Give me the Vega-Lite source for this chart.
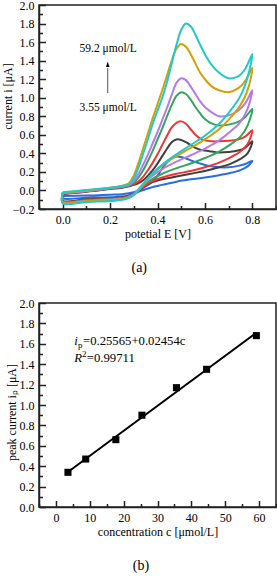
{
  "$schema": "https://vega.github.io/schema/vega-lite/v6.json",
  "padding": {"left": 0, "top": -2, "right": 0, "bottom": 0},
  "spacing": 20,
  "config": {
    "font": "Liberation Serif",
    "view": {"stroke": "#222", "strokeWidth": 1.5},
    "axis": {"labelFont": "Liberation Serif", "labelFontSize": 12, "labelColor": "#000", "titleFont": "Liberation Serif", "titleFontSize": 12, "titleFontWeight": "normal", "titleColor": "#000", "domainColor": "#222", "domainWidth": 1.5, "tickColor": "#222", "tickWidth": 1.5, "grid": false, "labelFlush": false, "labelOverlap": false, "labelPadding": 11.5, "tickSize": -6.5, "titlePadding": 3},
    "title": {"font": "Liberation Serif", "fontSize": 14, "fontWeight": "normal", "color": "#000", "orient": "bottom", "anchor": "middle", "frame": "bounds"}
  },
  "vconcat": [
    {
      "width": 237,
      "height": 204,
      "title": {"text": "(a)", "orient": "bottom", "offset": 22},
      "resolve": {"axis": {"x": "independent", "y": "independent"}},
      "layer": [
        {
          "data": {"values": [
            {"s":"blue","o":0,"E":0,"I":-0.06},{"s":"blue","o":1,"E":0.1,"I":-0.055},{"s":"blue","o":2,"E":0.2,"I":-0.045},{"s":"blue","o":3,"E":0.25,"I":-0.04},{"s":"blue","o":4,"E":0.28,"I":-0.03},{"s":"blue","o":5,"E":0.3,"I":-0.02},{"s":"blue","o":6,"E":0.32,"I":0.0},{"s":"blue","o":7,"E":0.34,"I":0.03},{"s":"blue","o":8,"E":0.36,"I":0.06},{"s":"blue","o":9,"E":0.38,"I":0.10},{"s":"blue","o":10,"E":0.4,"I":0.16},{"s":"blue","o":11,"E":0.42,"I":0.24},{"s":"blue","o":12,"E":0.44,"I":0.30},{"s":"blue","o":13,"E":0.46,"I":0.345},{"s":"blue","o":14,"E":0.48,"I":0.365},{"s":"blue","o":15,"E":0.5,"I":0.36},{"s":"blue","o":16,"E":0.52,"I":0.345},{"s":"blue","o":17,"E":0.54,"I":0.325},{"s":"blue","o":18,"E":0.56,"I":0.305},{"s":"blue","o":19,"E":0.58,"I":0.29},{"s":"blue","o":20,"E":0.6,"I":0.275},{"s":"blue","o":21,"E":0.63,"I":0.26},{"s":"blue","o":22,"E":0.66,"I":0.25},{"s":"blue","o":23,"E":0.7,"I":0.25},{"s":"blue","o":24,"E":0.74,"I":0.265},{"s":"blue","o":25,"E":0.77,"I":0.285},{"s":"blue","o":26,"E":0.8,"I":0.32},
            {"s":"blue","o":27,"E":0.78,"I":0.26},{"s":"blue","o":28,"E":0.75,"I":0.22},{"s":"blue","o":29,"E":0.71,"I":0.19},{"s":"blue","o":30,"E":0.66,"I":0.165},{"s":"blue","o":31,"E":0.6,"I":0.14},{"s":"blue","o":32,"E":0.54,"I":0.12},{"s":"blue","o":33,"E":0.48,"I":0.095},{"s":"blue","o":34,"E":0.42,"I":0.06},{"s":"blue","o":35,"E":0.37,"I":0.03},{"s":"blue","o":36,"E":0.33,"I":-0.005},{"s":"blue","o":37,"E":0.3,"I":-0.04},{"s":"blue","o":38,"E":0.27,"I":-0.06},{"s":"blue","o":39,"E":0.22,"I":-0.07},{"s":"blue","o":40,"E":0.1,"I":-0.078},{"s":"blue","o":41,"E":0,"I":-0.085},{"s":"blue","o":42,"E":0,"I":-0.06},

            {"s":"black","o":0,"E":0,"I":-0.04},{"s":"black","o":1,"E":0.1,"I":-0.015},{"s":"black","o":2,"E":0.2,"I":0.015},{"s":"black","o":3,"E":0.25,"I":0.03},{"s":"black","o":4,"E":0.28,"I":0.045},{"s":"black","o":5,"E":0.3,"I":0.06},{"s":"black","o":6,"E":0.32,"I":0.08},{"s":"black","o":7,"E":0.34,"I":0.11},{"s":"black","o":8,"E":0.36,"I":0.16},{"s":"black","o":9,"E":0.38,"I":0.22},{"s":"black","o":10,"E":0.4,"I":0.29},{"s":"black","o":11,"E":0.42,"I":0.37},{"s":"black","o":12,"E":0.44,"I":0.45},{"s":"black","o":13,"E":0.46,"I":0.52},{"s":"black","o":14,"E":0.48,"I":0.55},{"s":"black","o":15,"E":0.5,"I":0.545},{"s":"black","o":16,"E":0.52,"I":0.52},{"s":"black","o":17,"E":0.54,"I":0.49},{"s":"black","o":18,"E":0.56,"I":0.46},{"s":"black","o":19,"E":0.58,"I":0.44},{"s":"black","o":20,"E":0.6,"I":0.43},{"s":"black","o":21,"E":0.63,"I":0.42},{"s":"black","o":22,"E":0.66,"I":0.41},{"s":"black","o":23,"E":0.7,"I":0.415},{"s":"black","o":24,"E":0.74,"I":0.43},{"s":"black","o":25,"E":0.77,"I":0.46},{"s":"black","o":26,"E":0.8,"I":0.53},
            {"s":"black","o":27,"E":0.78,"I":0.40},{"s":"black","o":28,"E":0.75,"I":0.34},{"s":"black","o":29,"E":0.71,"I":0.29},{"s":"black","o":30,"E":0.66,"I":0.25},{"s":"black","o":31,"E":0.6,"I":0.21},{"s":"black","o":32,"E":0.54,"I":0.18},{"s":"black","o":33,"E":0.48,"I":0.15},{"s":"black","o":34,"E":0.42,"I":0.12},{"s":"black","o":35,"E":0.37,"I":0.08},{"s":"black","o":36,"E":0.33,"I":0.02},{"s":"black","o":37,"E":0.3,"I":-0.035},{"s":"black","o":38,"E":0.27,"I":-0.065},{"s":"black","o":39,"E":0.22,"I":-0.08},{"s":"black","o":40,"E":0.1,"I":-0.095},{"s":"black","o":41,"E":0,"I":-0.11},{"s":"black","o":42,"E":0,"I":-0.04},

            {"s":"red","o":0,"E":0,"I":-0.035},{"s":"red","o":1,"E":0.1,"I":-0.01},{"s":"red","o":2,"E":0.2,"I":0.02},{"s":"red","o":3,"E":0.25,"I":0.035},{"s":"red","o":4,"E":0.28,"I":0.05},{"s":"red","o":5,"E":0.3,"I":0.07},{"s":"red","o":6,"E":0.32,"I":0.10},{"s":"red","o":7,"E":0.34,"I":0.15},{"s":"red","o":8,"E":0.36,"I":0.22},{"s":"red","o":9,"E":0.38,"I":0.30},{"s":"red","o":10,"E":0.4,"I":0.39},{"s":"red","o":11,"E":0.42,"I":0.49},{"s":"red","o":12,"E":0.44,"I":0.59},{"s":"red","o":13,"E":0.46,"I":0.68},{"s":"red","o":14,"E":0.48,"I":0.73},{"s":"red","o":15,"E":0.5,"I":0.745},{"s":"red","o":16,"E":0.52,"I":0.72},{"s":"red","o":17,"E":0.54,"I":0.66},{"s":"red","o":18,"E":0.56,"I":0.60},{"s":"red","o":19,"E":0.58,"I":0.56},{"s":"red","o":20,"E":0.6,"I":0.54},{"s":"red","o":21,"E":0.63,"I":0.53},{"s":"red","o":22,"E":0.66,"I":0.53},{"s":"red","o":23,"E":0.7,"I":0.535},{"s":"red","o":24,"E":0.74,"I":0.55},{"s":"red","o":25,"E":0.77,"I":0.58},{"s":"red","o":26,"E":0.8,"I":0.65},
            {"s":"red","o":27,"E":0.78,"I":0.50},{"s":"red","o":28,"E":0.75,"I":0.42},{"s":"red","o":29,"E":0.71,"I":0.36},{"s":"red","o":30,"E":0.66,"I":0.30},{"s":"red","o":31,"E":0.6,"I":0.25},{"s":"red","o":32,"E":0.54,"I":0.21},{"s":"red","o":33,"E":0.48,"I":0.18},{"s":"red","o":34,"E":0.42,"I":0.14},{"s":"red","o":35,"E":0.37,"I":0.09},{"s":"red","o":36,"E":0.33,"I":0.02},{"s":"red","o":37,"E":0.3,"I":-0.04},{"s":"red","o":38,"E":0.27,"I":-0.07},{"s":"red","o":39,"E":0.22,"I":-0.085},{"s":"red","o":40,"E":0.1,"I":-0.10},{"s":"red","o":41,"E":0,"I":-0.115},{"s":"red","o":42,"E":0,"I":-0.035},

            {"s":"green","o":0,"E":0,"I":-0.03},{"s":"green","o":1,"E":0.1,"I":-0.005},{"s":"green","o":2,"E":0.2,"I":0.025},{"s":"green","o":3,"E":0.25,"I":0.04},{"s":"green","o":4,"E":0.28,"I":0.055},{"s":"green","o":5,"E":0.3,"I":0.085},{"s":"green","o":6,"E":0.32,"I":0.14},{"s":"green","o":7,"E":0.34,"I":0.22},{"s":"green","o":8,"E":0.36,"I":0.32},{"s":"green","o":9,"E":0.38,"I":0.43},{"s":"green","o":10,"E":0.4,"I":0.55},{"s":"green","o":11,"E":0.42,"I":0.67},{"s":"green","o":12,"E":0.44,"I":0.80},{"s":"green","o":13,"E":0.46,"I":0.92},{"s":"green","o":14,"E":0.48,"I":1.02},{"s":"green","o":15,"E":0.5,"I":1.06},{"s":"green","o":16,"E":0.52,"I":1.04},{"s":"green","o":17,"E":0.54,"I":0.98},{"s":"green","o":18,"E":0.56,"I":0.90},{"s":"green","o":19,"E":0.58,"I":0.83},{"s":"green","o":20,"E":0.6,"I":0.77},{"s":"green","o":21,"E":0.63,"I":0.72},{"s":"green","o":22,"E":0.66,"I":0.70},{"s":"green","o":23,"E":0.7,"I":0.71},{"s":"green","o":24,"E":0.74,"I":0.74},{"s":"green","o":25,"E":0.77,"I":0.79},{"s":"green","o":26,"E":0.8,"I":0.88},
            {"s":"green","o":27,"E":0.78,"I":0.70},{"s":"green","o":28,"E":0.75,"I":0.58},{"s":"green","o":29,"E":0.71,"I":0.50},{"s":"green","o":30,"E":0.66,"I":0.42},{"s":"green","o":31,"E":0.6,"I":0.35},{"s":"green","o":32,"E":0.54,"I":0.29},{"s":"green","o":33,"E":0.48,"I":0.24},{"s":"green","o":34,"E":0.42,"I":0.18},{"s":"green","o":35,"E":0.37,"I":0.11},{"s":"green","o":36,"E":0.33,"I":0.03},{"s":"green","o":37,"E":0.3,"I":-0.04},{"s":"green","o":38,"E":0.27,"I":-0.075},{"s":"green","o":39,"E":0.22,"I":-0.09},{"s":"green","o":40,"E":0.1,"I":-0.105},{"s":"green","o":41,"E":0,"I":-0.12},{"s":"green","o":42,"E":0,"I":-0.03},

            {"s":"purple","o":0,"E":0,"I":-0.03},{"s":"purple","o":1,"E":0.1,"I":-0.005},{"s":"purple","o":2,"E":0.2,"I":0.025},{"s":"purple","o":3,"E":0.25,"I":0.04},{"s":"purple","o":4,"E":0.28,"I":0.06},{"s":"purple","o":5,"E":0.3,"I":0.10},{"s":"purple","o":6,"E":0.32,"I":0.18},{"s":"purple","o":7,"E":0.34,"I":0.28},{"s":"purple","o":8,"E":0.36,"I":0.39},{"s":"purple","o":9,"E":0.38,"I":0.51},{"s":"purple","o":10,"E":0.4,"I":0.63},{"s":"purple","o":11,"E":0.42,"I":0.76},{"s":"purple","o":12,"E":0.44,"I":0.89},{"s":"purple","o":13,"E":0.46,"I":1.03},{"s":"purple","o":14,"E":0.48,"I":1.16},{"s":"purple","o":15,"E":0.5,"I":1.21},{"s":"purple","o":16,"E":0.52,"I":1.19},{"s":"purple","o":17,"E":0.54,"I":1.12},{"s":"purple","o":18,"E":0.56,"I":1.04},{"s":"purple","o":19,"E":0.58,"I":0.96},{"s":"purple","o":20,"E":0.6,"I":0.90},{"s":"purple","o":21,"E":0.63,"I":0.84},{"s":"purple","o":22,"E":0.66,"I":0.80},{"s":"purple","o":23,"E":0.7,"I":0.81},{"s":"purple","o":24,"E":0.74,"I":0.86},{"s":"purple","o":25,"E":0.77,"I":0.94},{"s":"purple","o":26,"E":0.8,"I":1.08},
            {"s":"purple","o":27,"E":0.78,"I":0.88},{"s":"purple","o":28,"E":0.75,"I":0.74},{"s":"purple","o":29,"E":0.71,"I":0.64},{"s":"purple","o":30,"E":0.66,"I":0.54},{"s":"purple","o":31,"E":0.6,"I":0.45},{"s":"purple","o":32,"E":0.54,"I":0.38},{"s":"purple","o":33,"E":0.48,"I":0.31},{"s":"purple","o":34,"E":0.42,"I":0.23},{"s":"purple","o":35,"E":0.37,"I":0.14},{"s":"purple","o":36,"E":0.33,"I":0.04},{"s":"purple","o":37,"E":0.3,"I":-0.04},{"s":"purple","o":38,"E":0.27,"I":-0.08},{"s":"purple","o":39,"E":0.22,"I":-0.095},{"s":"purple","o":40,"E":0.1,"I":-0.11},{"s":"purple","o":41,"E":0,"I":-0.125},{"s":"purple","o":42,"E":0,"I":-0.03},

            {"s":"gold","o":0,"E":0,"I":-0.025},{"s":"gold","o":1,"E":0.1,"I":0.0},{"s":"gold","o":2,"E":0.2,"I":0.03},{"s":"gold","o":3,"E":0.25,"I":0.05},{"s":"gold","o":4,"E":0.28,"I":0.08},{"s":"gold","o":5,"E":0.3,"I":0.16},{"s":"gold","o":6,"E":0.32,"I":0.30},{"s":"gold","o":7,"E":0.34,"I":0.46},{"s":"gold","o":8,"E":0.36,"I":0.62},{"s":"gold","o":9,"E":0.38,"I":0.78},{"s":"gold","o":10,"E":0.4,"I":0.93},{"s":"gold","o":11,"E":0.42,"I":1.08},{"s":"gold","o":12,"E":0.44,"I":1.24},{"s":"gold","o":13,"E":0.46,"I":1.40},{"s":"gold","o":14,"E":0.48,"I":1.53},{"s":"gold","o":15,"E":0.5,"I":1.58},{"s":"gold","o":16,"E":0.52,"I":1.55},{"s":"gold","o":17,"E":0.54,"I":1.47},{"s":"gold","o":18,"E":0.56,"I":1.37},{"s":"gold","o":19,"E":0.58,"I":1.27},{"s":"gold","o":20,"E":0.6,"I":1.20},{"s":"gold","o":21,"E":0.63,"I":1.12},{"s":"gold","o":22,"E":0.66,"I":1.08},{"s":"gold","o":23,"E":0.7,"I":1.06},{"s":"gold","o":24,"E":0.74,"I":1.10},{"s":"gold","o":25,"E":0.77,"I":1.18},{"s":"gold","o":26,"E":0.8,"I":1.32},
            {"s":"gold","o":27,"E":0.78,"I":1.08},{"s":"gold","o":28,"E":0.75,"I":0.92},{"s":"gold","o":29,"E":0.71,"I":0.79},{"s":"gold","o":30,"E":0.66,"I":0.66},{"s":"gold","o":31,"E":0.6,"I":0.55},{"s":"gold","o":32,"E":0.54,"I":0.46},{"s":"gold","o":33,"E":0.48,"I":0.37},{"s":"gold","o":34,"E":0.42,"I":0.27},{"s":"gold","o":35,"E":0.37,"I":0.15},{"s":"gold","o":36,"E":0.33,"I":0.03},{"s":"gold","o":37,"E":0.3,"I":-0.05},{"s":"gold","o":38,"E":0.27,"I":-0.085},{"s":"gold","o":39,"E":0.22,"I":-0.10},{"s":"gold","o":40,"E":0.1,"I":-0.115},{"s":"gold","o":41,"E":0,"I":-0.13},{"s":"gold","o":42,"E":0,"I":-0.025},

            {"s":"cyan","o":0,"E":0,"I":-0.02},{"s":"cyan","o":1,"E":0.1,"I":0.005},{"s":"cyan","o":2,"E":0.2,"I":0.03},{"s":"cyan","o":3,"E":0.25,"I":0.045},{"s":"cyan","o":4,"E":0.28,"I":0.07},{"s":"cyan","o":5,"E":0.3,"I":0.13},{"s":"cyan","o":6,"E":0.32,"I":0.25},{"s":"cyan","o":7,"E":0.34,"I":0.40},{"s":"cyan","o":8,"E":0.36,"I":0.56},{"s":"cyan","o":9,"E":0.38,"I":0.72},{"s":"cyan","o":10,"E":0.4,"I":0.86},{"s":"cyan","o":11,"E":0.42,"I":1.00},{"s":"cyan","o":12,"E":0.44,"I":1.17},{"s":"cyan","o":13,"E":0.46,"I":1.37},{"s":"cyan","o":14,"E":0.48,"I":1.57},{"s":"cyan","o":15,"E":0.5,"I":1.73},{"s":"cyan","o":16,"E":0.52,"I":1.80},{"s":"cyan","o":17,"E":0.54,"I":1.77},{"s":"cyan","o":18,"E":0.56,"I":1.68},{"s":"cyan","o":19,"E":0.58,"I":1.57},{"s":"cyan","o":20,"E":0.6,"I":1.47},{"s":"cyan","o":21,"E":0.63,"I":1.35},{"s":"cyan","o":22,"E":0.66,"I":1.27},{"s":"cyan","o":23,"E":0.7,"I":1.21},{"s":"cyan","o":24,"E":0.74,"I":1.23},{"s":"cyan","o":25,"E":0.77,"I":1.31},{"s":"cyan","o":26,"E":0.8,"I":1.47},
            {"s":"cyan","o":27,"E":0.78,"I":1.22},{"s":"cyan","o":28,"E":0.75,"I":1.02},{"s":"cyan","o":29,"E":0.71,"I":0.87},{"s":"cyan","o":30,"E":0.66,"I":0.72},{"s":"cyan","o":31,"E":0.6,"I":0.59},{"s":"cyan","o":32,"E":0.54,"I":0.49},{"s":"cyan","o":33,"E":0.48,"I":0.39},{"s":"cyan","o":34,"E":0.42,"I":0.28},{"s":"cyan","o":35,"E":0.37,"I":0.16},{"s":"cyan","o":36,"E":0.33,"I":0.04},{"s":"cyan","o":37,"E":0.3,"I":-0.05},{"s":"cyan","o":38,"E":0.27,"I":-0.09},{"s":"cyan","o":39,"E":0.22,"I":-0.11},{"s":"cyan","o":40,"E":0.1,"I":-0.125},{"s":"cyan","o":41,"E":0,"I":-0.14},{"s":"cyan","o":42,"E":0,"I":-0.02}
          ]},
          "mark": {"type": "line", "strokeWidth": 2, "interpolate": "catmull-rom"},
          "encoding": {
            "x": {"field": "E", "type": "quantitative", "title": "potetial E  [V]",
              "scale": {"domain": [-0.1, 0.9], "nice": false, "zero": false},
              "axis": {"values": [0, 0.2, 0.4, 0.6, 0.8], "format": ".1f", "labelOverlap": false, "labelFlush": false, "tickSize": -6.5, "labelPadding": 11.5, "titlePadding": 3}},
            "y": {"field": "I", "type": "quantitative", "title": "current i  [μA]",
              "scale": {"domain": [-0.2, 2.0], "nice": false, "zero": false},
              "axis": {"values": [-0.2, 0, 0.2, 0.4, 0.6, 0.8, 1.0, 1.2, 1.4, 1.6, 1.8, 2.0], "format": ".1f", "labelOverlap": false, "tickSize": -6.5, "labelPadding": 11.5, "titlePadding": -2.5, "titleY": 91}},
            "color": {"field": "s", "type": "nominal", "legend": null,
              "scale": {"domain": ["blue","black","red","green","purple","gold","cyan"], "range": ["#2a6de0","#404040","#ef3535","#33a65e","#b57ce8","#d4a00a","#1ecaca"]}},
            "order": {"field": "o", "type": "quantitative"}
          }
        },
        {
          "data": {"values": [{"E": 0.19, "I": 1.05, "I2": 1.32}]},
          "mark": {"type": "rule", "color": "#555", "strokeWidth": 1},
          "encoding": {
            "x": {"field": "E", "type": "quantitative", "axis": {"values": [-0.1, 0.1, 0.3, 0.5, 0.7, 0.9], "labels": false, "domain": false, "tickSize": -3.5, "title": null, "orient": "bottom"}},
            "y": {"field": "I", "type": "quantitative", "axis": {"values": [-0.1, 0.1, 0.3, 0.5, 0.7, 0.9, 1.1, 1.3, 1.5, 1.7, 1.9], "labels": false, "domain": false, "tickSize": -3.5, "title": null, "orient": "left"}},
            "y2": {"field": "I2"}
          }
        },
        {
          "data": {"values": [{"E": 0.19, "I": 1.36}]},
          "mark": {"type": "point", "shape": "M0,-0.5L0.32,0.5L-0.32,0.5Z", "size": 121, "filled": true, "color": "#000", "opacity": 1},
          "encoding": {"x": {"field": "E", "type": "quantitative", "axis": null}, "y": {"field": "I", "type": "quantitative", "axis": null}}
        },
        {
          "data": {"values": [{"E": 0.071, "I": 1.524, "t": "59.2 μmol/L"}, {"E": 0.071, "I": 0.89, "t": "3.55 μmol/L"}]},
          "mark": {"type": "text", "align": "left", "baseline": "middle", "font": "Liberation Serif", "fontSize": 11.5, "color": "#000"},
          "encoding": {"x": {"field": "E", "type": "quantitative", "axis": null}, "y": {"field": "I", "type": "quantitative", "axis": null}, "text": {"field": "t"}}
        }
      ]
    },
    {
      "width": 237,
      "height": 204,
      "title": {"text": "(b)", "orient": "bottom", "offset": 22},
      "resolve": {"axis": {"x": "independent", "y": "independent"}},
      "layer": [
        {
          "data": {"values": [{"c": 3.55, "ip": 0.343}, {"c": 59.2, "ip": 1.708}]},
          "mark": {"type": "line", "color": "#000", "strokeWidth": 2},
          "encoding": {
            "x": {"field": "c", "type": "quantitative", "title": "concentration c [μmol/L]",
              "scale": {"domain": [-5, 65], "nice": false, "zero": false},
              "axis": {"values": [0, 10, 20, 30, 40, 50, 60], "format": "d", "labelOverlap": false, "labelFlush": false, "tickSize": -6.5, "labelPadding": 11.5, "titlePadding": 3}},
            "y": {"field": "ip", "type": "quantitative", "title": "peak current  iₚ [μA]",
              "scale": {"domain": [0, 2.0], "nice": false},
              "axis": {"values": [0, 0.2, 0.4, 0.6, 0.8, 1.0, 1.2, 1.4, 1.6, 1.8, 2.0], "format": ".1f", "labelOverlap": false, "tickSize": -6.5, "labelPadding": 11.5, "titlePadding": 1, "titleY": 109}}
          }
        },
        {
          "data": {"values": [
            {"c": 3.55, "ip": 0.34}, {"c": 8.8, "ip": 0.47}, {"c": 17.7, "ip": 0.66}, {"c": 25.4, "ip": 0.90},
            {"c": 35.6, "ip": 1.17}, {"c": 44.5, "ip": 1.35}, {"c": 59.2, "ip": 1.68}
          ]},
          "mark": {"type": "point", "shape": "square", "filled": true, "size": 50, "color": "#000", "opacity": 1},
          "encoding": {
            "x": {"field": "c", "type": "quantitative", "axis": {"values": [-5, 5, 15, 25, 35, 45, 55, 65], "labels": false, "domain": false, "tickSize": -3.5, "title": null, "orient": "bottom"}},
            "y": {"field": "ip", "type": "quantitative", "axis": {"values": [0.1, 0.3, 0.5, 0.7, 0.9, 1.1, 1.3, 1.5, 1.7, 1.9], "labels": false, "domain": false, "tickSize": -3.5, "title": null, "orient": "left"}}
          }
        },
        {
          "data": {"values": [{"c": 5.4, "ip": 1.63}]},
          "encoding": {"x": {"field": "c", "type": "quantitative", "axis": null}, "y": {"field": "ip", "type": "quantitative", "axis": null}},
          "layer": [
            {"mark": {"type": "text", "text": "i", "fontStyle": "italic", "align": "left", "baseline": "middle", "fontSize": 12.7, "font": "Liberation Serif", "color": "#000"}},
            {"mark": {"type": "text", "text": "p", "align": "left", "baseline": "middle", "fontSize": 9, "dx": 3.8, "dy": 4, "font": "Liberation Serif", "color": "#000"}},
            {"mark": {"type": "text", "text": "=0.25565+0.02454c", "align": "left", "baseline": "middle", "fontSize": 12.7, "dx": 8.8, "font": "Liberation Serif", "color": "#000"}}
          ]
        },
        {
          "data": {"values": [{"c": 5.4, "ip": 1.46}]},
          "encoding": {"x": {"field": "c", "type": "quantitative", "axis": null}, "y": {"field": "ip", "type": "quantitative", "axis": null}},
          "layer": [
            {"mark": {"type": "text", "text": "R", "fontStyle": "italic", "align": "left", "baseline": "middle", "fontSize": 12.7, "font": "Liberation Serif", "color": "#000"}},
            {"mark": {"type": "text", "text": "2", "align": "left", "baseline": "middle", "fontSize": 9, "dx": 7.9, "dy": -4.5, "font": "Liberation Serif", "color": "#000"}},
            {"mark": {"type": "text", "text": "=0.99711", "align": "left", "baseline": "middle", "fontSize": 12.7, "dx": 12.6, "font": "Liberation Serif", "color": "#000"}}
          ]
        }
      ]
    }
  ]
}
